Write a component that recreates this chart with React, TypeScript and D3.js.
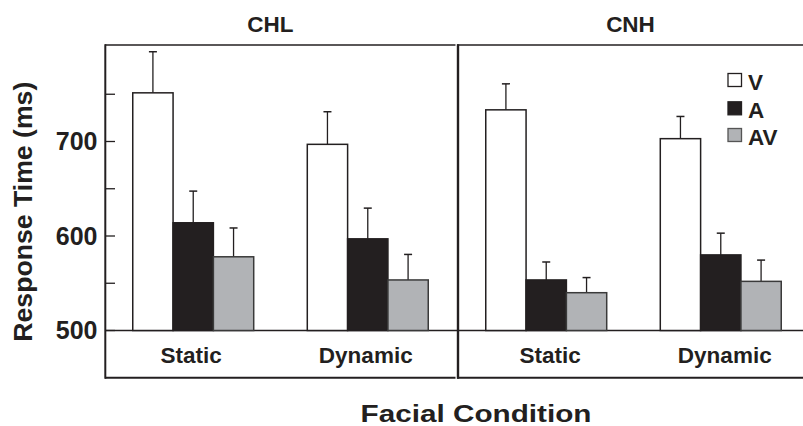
import React from "react";
import * as d3 from "d3";

const categories = ["Static", "Dynamic"];
const seriesNames = ["V", "A", "AV"];
// means per panel, per series, per category
const chlV = [751.5, 697];
const chlA = [614, 597];
const chlAV = [578, 553.5];
const chlErrV = [43.5, 34.5];
const chlErrA = [33.5, 32.5];
const chlErrAV = [30.5, 27];
const cnhV = [733.5, 703];
const cnhA = [553.5, 580];
const cnhAV = [540, 552];
const cnhErrV = [27.5, 23.5];
const cnhErrA = [19, 23];
const cnhErrAV = [16, 22.5];
const yTicks = [500, 600, 700];
const yMinorTicks = [550, 650, 750];

const panelData = [
  { name: "CHL", means: [chlV, chlA, chlAV], errs: [chlErrV, chlErrA, chlErrAV] },
  { name: "CNH", means: [cnhV, cnhA, cnhAV], errs: [cnhErrV, cnhErrA, cnhErrAV] },
];

const INK = "#231f20";
const fills: Record<string, string> = { V: "#ffffff", A: "#231f20", AV: "#b1b3b6" };
const FONT = "'Liberation Sans', Arial, Helvetica, sans-serif";

export default function App() {
  const W = 803, H = 426;
  const panelX0 = [105, 458];
  const panelW = 351;
  const top = 45, bottom = 377.7;
  const y = d3.scaleLinear().domain([500, 800]).range([330.5, 47]);
  const x0 = d3.scaleBand().domain(categories).range([0, panelW]).paddingInner(0.307).paddingOuter(0.159);
  const x1 = d3.scaleBand().domain(seriesNames).range([0, x0.bandwidth()]).padding(0);
  const capW = 8;

  return (
    <svg width={W} height={H} style={{ position: "absolute", left: 0, top: 0, background: "#fff" }} fontFamily={FONT}>
      {/* frame lines */}
      <line x1={105} x2={455.5} y1={top} y2={top} stroke={INK} strokeWidth={1.5} />
      <line x1={457} x2={803} y1={top} y2={top} stroke={INK} strokeWidth={1.5} />
      <line x1={105} x2={455.5} y1={bottom} y2={bottom} stroke={INK} strokeWidth={2} />
      <line x1={457} x2={803} y1={bottom} y2={bottom} stroke={INK} strokeWidth={2} />
      <line x1={105.3} x2={105.3} y1={top - 0.75} y2={bottom + 1} stroke={INK} strokeWidth={2} />
      <line x1={458} x2={458} y1={top - 0.75} y2={bottom + 1} stroke={INK} strokeWidth={2.4} />
      <line x1={105} x2={803} y1={y(500)} y2={y(500)} stroke={INK} strokeWidth={1.5} />

      {/* y ticks */}
      {yTicks.concat(yMinorTicks).map((t) => (
        <line key={"t" + t} x1={105} x2={115} y1={y(t)} y2={y(t)} stroke={INK} strokeWidth={1.3} />
      ))}
      {yTicks.map((t) => (
        <text key={"l" + t} x={97.5} y={y(t) + 8.8} textAnchor="end" fontSize={25} fontWeight="bold" fill={INK}>
          {t}
        </text>
      ))}
      <text
        transform={`translate(32,211.7) rotate(-90)`}
        textAnchor="middle"
        fontSize={25}
        fontWeight="bold"
        fill={INK}
        textLength={260}
        lengthAdjust="spacingAndGlyphs"
      >
        Response Time (ms)
      </text>
      <text x={476} y={421.5} textAnchor="middle" fontSize={23} fontWeight="bold" fill={INK} textLength={231} lengthAdjust="spacingAndGlyphs">
        Facial Condition
      </text>

      {panelData.map((p, pi) => {
        const px = panelX0[pi];
        return (
          <g key={p.name}>
            <text x={pi === 0 ? 270.3 : 630.5} y={32.3} textAnchor="middle" fontSize={22.5} fontWeight="bold" fill={INK}>
              {p.name}
            </text>
            {categories.map((c, ci) => {
              const gx = px + (x0(c) as number);
              return (
                <g key={c}>
                  {seriesNames.map((s, si) => {
                    const v = p.means[si][ci];
                    const e = p.errs[si][ci];
                    const bx = gx + (x1(s) as number);
                    const bw = x1.bandwidth();
                    const cx = bx + bw / 2;
                    return (
                      <g key={s}>
                        <line x1={cx} x2={cx} y1={y(v)} y2={y(v + e)} stroke={INK} strokeWidth={1.3} />
                        <line x1={cx - capW / 2} x2={cx + capW / 2} y1={y(v + e)} y2={y(v + e)} stroke={INK} strokeWidth={1.5} />
                        <rect x={bx} y={y(v)} width={bw} height={y(500) - y(v)} fill={fills[s]} stroke={s === "AV" ? "#3a3a3a" : INK} strokeWidth={1.5} />
                      </g>
                    );
                  })}
                  <text x={gx + x0.bandwidth() / 2 + (pi === 1 ? 4 : -2)} y={363} textAnchor="middle" fontSize={22.5} fontWeight="bold" fill={INK}>
                    {c}
                  </text>
                </g>
              );
            })}
          </g>
        );
      })}

      {/* legend */}
      {seriesNames.map((s, i) => {
        const ly = [80, 108.3, 135][i];
        return (
          <g key={"lg" + s}>
            <rect x={728} y={ly - 6.5} width={13.5} height={13} fill={fills[s]} stroke={s === "AV" ? "#555" : INK} strokeWidth={1.3} />
            <text x={748} y={ly + 10} fontSize={22.5} fontWeight="bold" fill={INK}>
              {s}
            </text>
          </g>
        );
      })}
    </svg>
  );
}
